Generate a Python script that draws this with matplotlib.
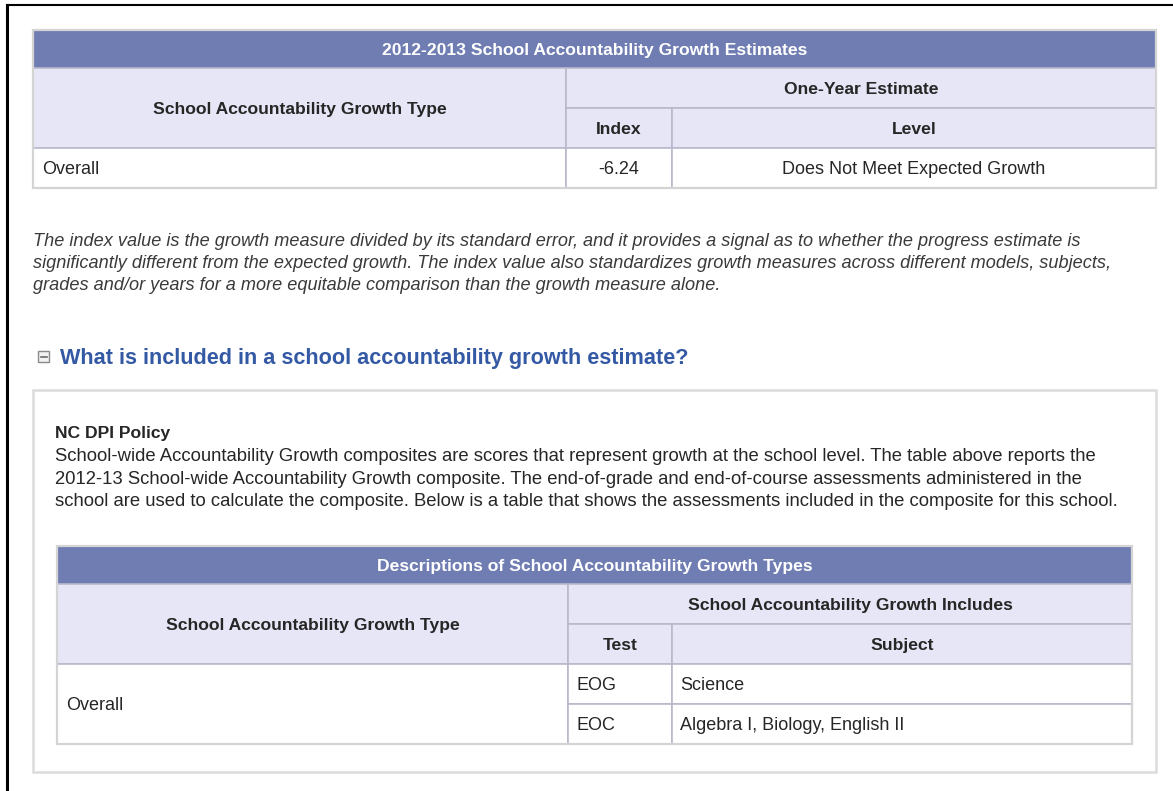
import matplotlib.pyplot as plt
from matplotlib.patches import Rectangle

# --- content -------------------------------------------------------------
t1_title = "2012-2013 School Accountability Growth Estimates"
t1_type_header = "School Accountability Growth Type"
t1_group_header = "One-Year Estimate"
t1_sub_headers = ["Index", "Level"]
t1_types = ["Overall"]
t1_index = ["-6.24"]
t1_level = ["Does Not Meet Expected Growth"]

note_lines = [
    "The index value is the growth measure divided by its standard error, and it provides a signal as to whether the progress estimate is",
    "significantly different from the expected growth. The index value also standardizes growth measures across different models, subjects,",
    "grades and/or years for a more equitable comparison than the growth measure alone.",
]

section_title = "What is included in a school accountability growth estimate?"
policy_title = "NC DPI Policy"
policy_lines = [
    "School-wide Accountability Growth composites are scores that represent growth at the school level. The table above reports the",
    "2012-13 School-wide Accountability Growth composite. The end-of-grade and end-of-course assessments administered in the",
    "school are used to calculate the composite. Below is a table that shows the assessments included in the composite for this school.",
]

t2_title = "Descriptions of School Accountability Growth Types"
t2_type_header = "School Accountability Growth Type"
t2_group_header = "School Accountability Growth Includes"
t2_sub_headers = ["Test", "Subject"]
t2_types = ["Overall"]
t2_tests = ["EOG", "EOC"]
t2_subjects = ["Science", "Algebra I, Biology, English II"]

# --- style ---------------------------------------------------------------
DARK = "#6f7db2"
LAV = "#e6e6f6"
GRID = "#b9b9cc"
TXT = "#262626"
NARROW = ["Liberation Sans Narrow", "Liberation Sans", "DejaVu Sans"]
WIDE = ["Liberation Sans", "DejaVu Sans"]
BODY = 13.0

W, H = 1173, 791
fig = plt.figure(figsize=(W / 100, H / 100), dpi=100)
ax = fig.add_axes([0, 0, 1, 1])
ax.set_xlim(0, W)
ax.set_ylim(H, 0)
ax.axis("off")


def box(x0, y0, x1, y1, fc, ec=GRID, lw=1.2, z=1):
    ax.add_patch(Rectangle((x0, y0), x1 - x0, y1 - y0, facecolor=fc,
                           edgecolor=ec, linewidth=lw, zorder=z))


def txt(x, y, s, size=12.6, ha="center", color=TXT, weight="normal", style="normal", family=NARROW):
    # small downward nudge so glyphs sit like the browser rendering
    ax.text(x, y + 1.5, s, ha=ha, va="center", fontsize=size, color=color,
            fontweight=weight, fontstyle=style, family=family, zorder=5)


def draw_table(x0, x1, c1, c2, top, title, type_hdr, grp_hdr, subs,
               types, col_a, col_b, a_align="center", rh=40, bar=38):
    # title bar
    box(x0, top, x1, top + bar, DARK, ec=DARK)
    txt((x0 + x1) / 2, top + bar / 2, title, color="white", weight="bold")
    # header rows
    h0 = top + bar
    box(x0, h0, c1, h0 + 2 * rh, LAV)
    txt((x0 + c1) / 2, h0 + rh, type_hdr, weight="bold")
    box(c1, h0, x1, h0 + rh, LAV)
    txt((c1 + x1) / 2, h0 + rh / 2, grp_hdr, weight="bold")
    box(c1, h0 + rh, c2, h0 + 2 * rh, LAV)
    box(c2, h0 + rh, x1, h0 + 2 * rh, LAV)
    txt((c1 + c2) / 2, h0 + 1.5 * rh, subs[0], weight="bold")
    txt((c2 + x1) / 2, h0 + 1.5 * rh, subs[1], weight="bold")
    # body
    b0 = h0 + 2 * rh
    n = len(col_a)
    box(x0, b0, c1, b0 + n * rh, "white")
    txt(x0 + 9, b0 + n * rh / 2, types[0], size=BODY, ha="left")
    for i, (a, b) in enumerate(zip(col_a, col_b)):
        y = b0 + i * rh
        box(c1, y, c2, y + rh, "white")
        box(c2, y, x1, y + rh, "white")
        if a_align == "center":
            txt((c1 + c2) / 2, y + rh / 2, a, size=BODY)
            txt((c2 + x1) / 2, y + rh / 2, b, size=BODY)
        else:
            txt(c1 + 9, y + rh / 2, a, size=BODY, ha="left")
            txt(c2 + 8, y + rh / 2, b, size=BODY, ha="left")
    # outer light frame
    box(x0, top, x1, b0 + n * rh, "none", ec="#d4d4d4", lw=1.6, z=2)


# screenshot frame
ax.plot([7, 7], [5, H], color="black", lw=2.2)
ax.plot([7, W], [5, 5], color="black", lw=1.5)

draw_table(33, 1156, 566, 672, 30, t1_title, t1_type_header, t1_group_header,
           t1_sub_headers, t1_types, t1_index, t1_level)

for i, line in enumerate(note_lines):
    txt(33, 240 + i * 22, line, size=13.1, ha="left", color="#3a3a3a", style="italic")

# collapse icon + section heading
box(38, 351, 49, 362, "#f2f2f2", ec="#8a8a8a", lw=1.0)
ax.plot([40.5, 46.5], [356.5, 356.5], color="#6a6a6a", lw=1.2, zorder=3)
txt(60, 357, section_title, size=15.6, ha="left", color="#3459a4", weight="bold", family=WIDE)

# policy panel
box(33, 390, 1156, 772, "white", ec="#dcdcdc", lw=1.8, z=0)
txt(55, 432, policy_title, size=12.6, ha="left", weight="bold")
for i, line in enumerate(policy_lines):
    txt(55, 455 + i * 22.5, line, size=13.3, ha="left")

draw_table(57, 1132, 568, 672, 546, t2_title, t2_type_header, t2_group_header,
           t2_sub_headers, t2_types, t2_tests, t2_subjects, a_align="left")

fig.savefig("out.png", dpi=100)
